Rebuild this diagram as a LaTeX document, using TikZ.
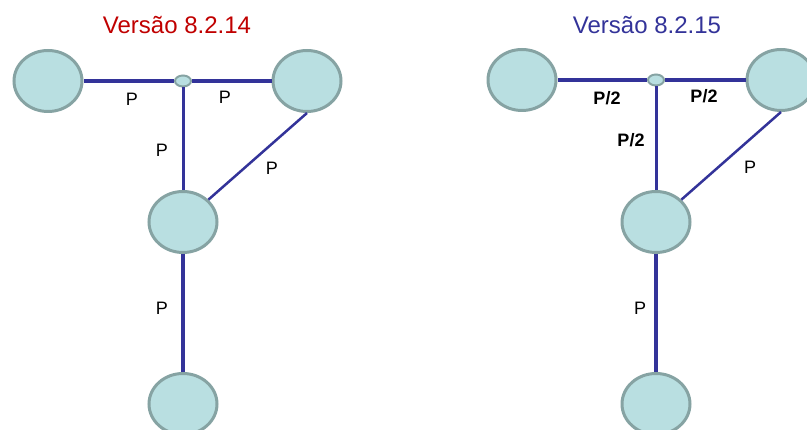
\documentclass[tikz,border=0pt]{standalone}
\usepackage{fontspec}
\setmainfont{Liberation Sans}
\usetikzlibrary{shapes.geometric}
\definecolor{nodefill}{HTML}{B9DFE1}
\definecolor{nodeline}{HTML}{86A3A3}
\definecolor{linkblue}{HTML}{333399}
\definecolor{titlered}{HTML}{C00000}
\definecolor{titleblue}{HTML}{333399}
\tikzset{
  bignode/.style={ellipse, draw=nodeline, fill=nodefill, line width=3pt, minimum width=68pt, minimum height=61pt, inner sep=0pt},
  junction/.style={ellipse, draw=nodeline, fill=nodefill, line width=2pt, minimum width=16pt, minimum height=11pt, inner sep=0pt},
  thick link/.style={draw=linkblue, line width=3.5pt},
  mid link/.style={draw=linkblue, line width=3pt},
  thin link/.style={draw=linkblue, line width=2.5pt},
  lbl/.style={font=\fontsize{18pt}{20pt}\selectfont, inner sep=0pt},
  boldlbl/.style={font=\fontsize{18pt}{20pt}\selectfont\bfseries, inner sep=0pt},
  title/.style={font=\fontsize{24pt}{28pt}\selectfont, inner sep=0pt}
}
\begin{document}
\begin{tikzpicture}[x=1pt,y=-1pt]
\useasboundingbox (0,0) rectangle (807,430);
\clip (0,0) rectangle (807,430);
% ---------- left diagram ----------
\node[title, text=titlered] (t1) at (177,25) {Versão 8.2.14};
\node[bignode] (a1) at (48,81) {};
\node[junction] (j1) at (183,81) {};
\node[bignode] (b1) at (307,81) {};
\node[bignode] (c1) at (183,222) {};
\node[bignode] (d1) at (183,404) {};
\draw[thick link] (a1.east) -- (j1.west);
\draw[thick link] (j1.east) -- (b1.west);
\draw[mid link] (j1.south) -- (c1.north);
\draw[thin link] (b1.south) -- (c1);
\draw[thick link] (c1.south) -- (d1.north);
\node[lbl] (p11) at (132,99) {P};
\node[lbl] (p12) at (225,97) {P};
\node[lbl] (p13) at (162,150) {P};
\node[lbl] (p14) at (272,168) {P};
\node[lbl] (p15) at (162,308) {P};
% ---------- right diagram ----------
\node[title, text=titleblue] (t2) at (647,25) {Versão 8.2.15};
\node[bignode] (a2) at (522,80) {};
\node[junction] (j2) at (656,80) {};
\node[bignode] (b2) at (781,80) {};
\node[bignode] (c2) at (656,222) {};
\node[bignode] (d2) at (656,404) {};
\draw[thick link] (a2.east) -- (j2.west);
\draw[thick link] (j2.east) -- (b2.west);
\draw[mid link] (j2.south) -- (c2.north);
\draw[thin link] (b2.south) -- (c2);
\draw[thick link] (c2.south) -- (d2.north);
\node[boldlbl] (p21) at (607,98) {P/2};
\node[boldlbl] (p22) at (704,96) {P/2};
\node[boldlbl] (p23) at (631,140) {P/2};
\node[lbl] (p24) at (750,167) {P};
\node[lbl] (p25) at (640,308) {P};
\end{tikzpicture}
\end{document}
